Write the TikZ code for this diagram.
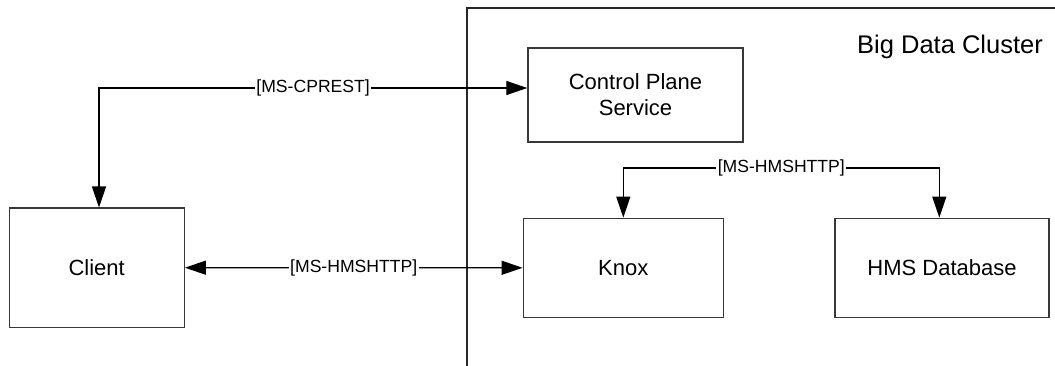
\documentclass[tikz,border=0pt]{standalone}
\usepackage{fontspec}
\setmainfont{Liberation Sans}
\usetikzlibrary{arrows.meta}
\begin{document}
\begin{tikzpicture}[x=1pt,y=-1pt,
  box/.style={draw=black!78, line width=1.4pt, inner sep=0pt, align=center,
    font=\fontsize{22}{26}\selectfont},
  tip/.style={},
  conn/.style={line width=1.3pt, -{Triangle[length=21pt,width=14pt]}},
  both/.style={line width=1.3pt, {Triangle[length=21pt,width=14pt]}-{Triangle[length=21pt,width=14pt]}},
  lbl/.style={fill=white, inner sep=1.5pt, font=\fontsize{17.6}{20}\selectfont}]
\useasboundingbox (0,0) rectangle (1055,366);
% cluster frame
\coordinate (fb) at (467,370);
\coordinate (ft) at (467,8);
\coordinate (fr) at (1060,8);
\draw[line width=1.3pt, black!85] (fb) -- (ft) -- (fr);
\node[font=\fontsize{25.5}{30}\selectfont] (title) at (950,47) {Big Data Cluster};
% boxes
\node[box, minimum width=175pt, minimum height=119pt] (client) at (96.7,267.7) {Client};
\node[box, minimum width=215pt, minimum height=94pt] (cp) at (635.5,95) {Control Plane\\Service};
\node[box, minimum width=200pt, minimum height=99pt] (knox) at (623.3,267.8) {Knox};
\node[box, minimum width=214pt, minimum height=99pt] (hms) at (942,267.8) {HMS Database};
% connectors
\coordinate (c1) at (99,88);
\draw[both] (client.north -| c1) -- (c1) -- node[lbl] (l1) {[MS-CPREST]} (cp.west |- c1);
\draw[both] (client.east) -- node[lbl] (l2) {[MS-HMSHTTP]} (knox.west);
\coordinate (k1) at (623.3,168);
\coordinate (k2) at (939.3,168);
\draw[both] (knox.north -| k1) -- (k1) -- node[lbl] (l3) {[MS-HMSHTTP]} (k2) -- (hms.north -| k2);
\end{tikzpicture}
\end{document}
